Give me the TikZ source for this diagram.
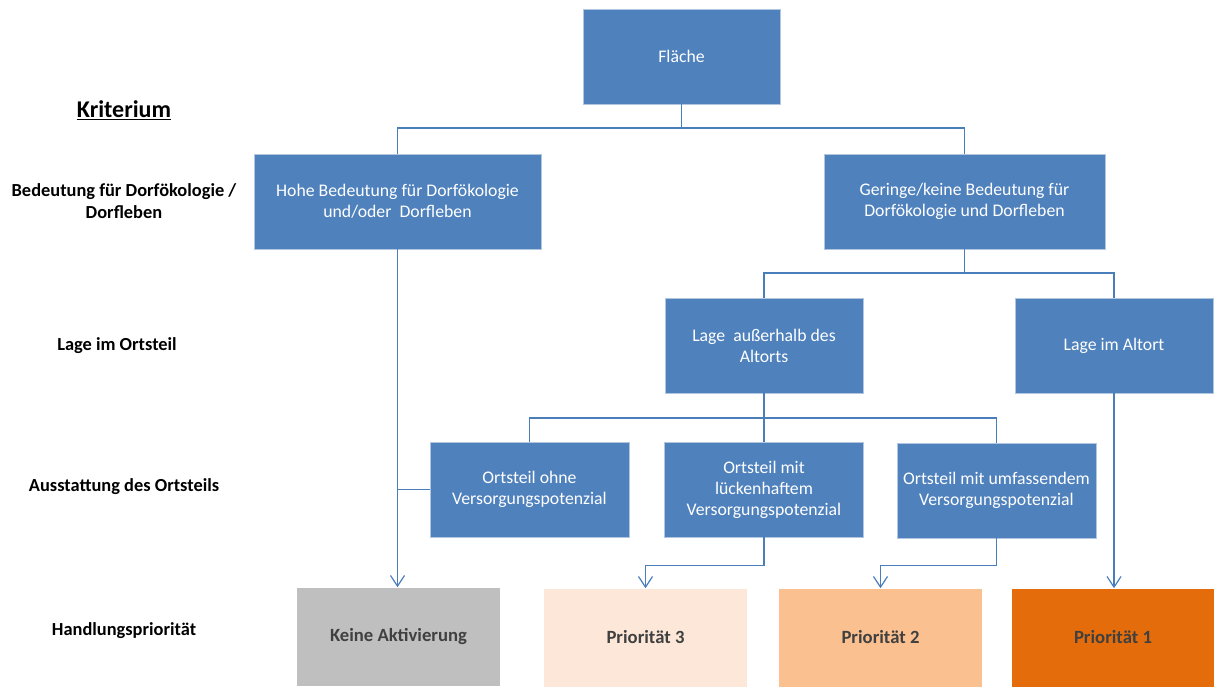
\documentclass[tikz,border=0pt]{standalone}
\usepackage{fontspec}
\setmainfont{Carlito}
\usetikzlibrary{arrows.meta, positioning, calc}
\definecolor{boxblue}{HTML}{4F81BD}
\definecolor{lineblue}{HTML}{4A7EBB}
\definecolor{greyfill}{HTML}{BFBFBF}
\definecolor{prioone}{HTML}{E46C0A}
\definecolor{priotwo}{HTML}{FAC08F}
\definecolor{priothree}{HTML}{FCE7D8}
\definecolor{textdark}{HTML}{404040}

\begin{document}
\begin{tikzpicture}[x=0.75pt, y=-0.75pt,
  crit/.style={rectangle, draw=boxblue!45!white, fill=boxblue, line width=0.6pt, minimum height=71.25pt, inner sep=2pt, align=center, text=white, font=\fontsize{13.3}{15.8}\selectfont},
  prio/.style={rectangle, minimum width=152.25pt, minimum height=73.5pt, align=center, text=textdark, font=\bfseries\fontsize{14}{17}\selectfont},
  label/.style={font=\bfseries\fontsize{13.8}{16.5}\selectfont, align=center},
  link/.style={draw=lineblue, line width=0.9pt},
  arrow/.style={link, -{Straight Barb[length=8pt, width=10.5pt, line width=0.9pt]}}
]
  \useasboundingbox (0,0) rectangle (1214,686);

  % Criteria on the left
  \node[label, font=\bfseries\fontsize{18}{21}\selectfont] (kriterium) at (124,110) {\underline{Kriterium}};
  \node[label] (lbedeutung) at (124,201) {Bedeutung für Dorfökologie /\\Dorfleben};
  \node[label] (llage) at (117,346) {Lage im Ortsteil};
  \node[label] (lausstattung) at (124,487) {Ausstattung des Ortsteils};
  \node[label] (lhandlung) at (124,631) {Handlungspriorität};

  % Decision boxes
  \node[crit, minimum width=147.75pt] (flaeche) at (681.5,56.5) {Fläche};
  \node[crit, minimum width=215.25pt] (hohe) at (397.5,201.5) {Hohe Bedeutung für Dorfökologie\\und/oder~ Dorfleben};
  \node[crit, minimum width=210.75pt] (geringe) at (964.5,201.5) {Geringe/keine Bedeutung für\\Dorfökologie und Dorfleben};
  \node[crit, minimum width=148.5pt] (ausserhalb) at (764,345.5) {Lage~ außerhalb des\\Altorts};
  \node[crit, minimum width=148.5pt] (altort) at (1114,345.5) {Lage im Altort};
  \node[crit, minimum width=149.25pt] (ohne) at (529.5,489.5) {Ortsteil ohne\\Versorgungspotenzial};
  \node[crit, minimum width=149.25pt] (lueckenhaft) at (764,489.5) {Ortsteil mit\\lückenhaftem\\Versorgungspotenzial};
  \node[crit, minimum width=149.25pt] (umfassend) at (996.5,490.5) {Ortsteil mit umfassendem\\Versorgungspotenzial};

  % Priorities
  \node[prio, fill=greyfill] (keine) at (398.5,636.5) {Keine Aktivierung};
  \node[prio, fill=priothree] (prio3) at (645.5,637.5) {Priorität 3};
  \node[prio, fill=priotwo] (prio2) at (880.5,637.5) {Priorität 2};
  \node[prio, fill=prioone] (prio1) at (1113,637.5) {Priorität 1};

  % Branch points
  \coordinate (bus1) at (681.5,128);
  \coordinate (bus2) at (964.5,273);
  \coordinate (bus3) at (764,418);

  % Connectors
  \draw[link] (flaeche.south) -- (bus1);
  \draw[link] (bus1) -| (hohe.north);
  \draw[link] (bus1) -| (geringe.north);

  \draw[link] (geringe.south) -- (bus2);
  \draw[link] (bus2) -| (ausserhalb.north);
  \draw[link] (bus2) -| (altort.north);

  \draw[link] (ausserhalb.south) -- (bus3);
  \draw[link] (bus3) -| (ohne.north);
  \draw[link] (bus3) -- (lueckenhaft.north);
  \draw[link] (bus3) -| (umfassend.north);

  \draw[arrow] (hohe.south) -- (hohe.south |- keine.north);
  \draw[link] (ohne.west) -- (ohne.west -| hohe.south);
  \draw[arrow] (lueckenhaft.south) -- ++(0,28) -| (prio3.north);
  \draw[arrow] (umfassend.south) -- ++(0,27) -| (prio2.north);
  \draw[arrow] (altort.south) -- (altort.south |- prio1.north);
\end{tikzpicture}
\end{document}
